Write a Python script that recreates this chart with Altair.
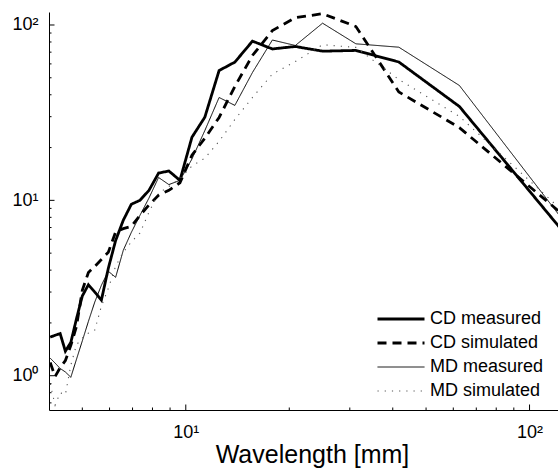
import altair as alt
import pandas as pd

# Wavelengths [mm] (x positions of the sampled points)
wavelength = [125.0, 62.5, 41.67, 31.25, 25.0, 20.83, 17.86, 15.63, 13.89, 12.5,
              11.36, 10.42, 9.615, 8.929, 8.333, 7.813, 7.353, 6.944, 6.579, 6.25,
              5.952, 5.682, 5.435, 5.208, 5.0, 4.808, 4.630, 4.464, 4.310, 4.167, 4.032]

cd_measured = [6.66, 34.3, 61.5, 71.6, 70.9, 75.4, 73.0, 80.9, 61.4, 55.0,
               29.8, 22.9, 13.0, 14.7, 14.3, 11.4, 10.0, 9.5, 7.7, 5.9,
               4.1, 2.7, 3.0, 3.3, 2.85, 2.11, 1.55, 1.38, 1.74, 1.70, 1.66]

cd_simulated = [8.3, 26.0, 41.5, 98.0, 116.0, 110.0, 93.0, 67.0, 44.6, 29.7,
                22.6, 18.1, 12.6, 11.4, 10.7, 9.4, 8.2, 7.1, 6.9, 6.6,
                5.06, 4.6, 4.2, 3.88, 3.07, 1.91, 1.49, 1.22, 1.11, 0.99, 1.19]

md_measured = [7.73, 45.2, 74.7, 78.1, 102.4, 76.4, 82.1, 53.6, 34.8, 38.6,
               25.0, 17.2, 13.0, 12.3, 13.5, 10.3, 8.2, 6.57, 5.19, 3.64,
               3.94, 3.28, 2.63, 2.04, 1.58, 1.24, 0.98, 1.05, 1.10, 1.18, 1.26]

md_simulated = [8.68, 30.1, 48.9, 74.5, 77.2, 61.9, 52.5, 38.6, 28.9, 21.7,
                17.4, 15.7, 13.3, 12.0, 11.0, 8.55, 6.5, 5.8, 5.05, 4.21,
                3.15, 2.49, 1.82, 1.75, 1.64, 1.5, 1.15, 0.78, 0.8, 0.68, 0.9]

series_names = ["CD measured", "CD simulated", "MD measured", "MD simulated"]

x_major = [10, 100]
x_minor = [5, 6, 7, 8, 9, 20, 30, 40, 50, 60, 70, 80, 90]
y_major = [1, 10, 100]
y_minor = [0.7, 0.8, 0.9, 2, 3, 4, 5, 6, 7, 8, 9, 20, 30, 40, 50, 60, 70, 80, 90]

rows = []
for name, vals in zip(series_names, [cd_measured, cd_simulated, md_measured, md_simulated]):
    for w, v in zip(wavelength, vals):
        rows.append({"series": name, "wavelength": w, "value": v})
df = pd.DataFrame(rows)

FONT = "Liberation Sans"
PLOT_W, PLOT_H = 509, 398

xscale = alt.Scale(type="log", domain=[4, 121], nice=False)
yscale = alt.Scale(type="log", domain=[0.6375, 118.6], nice=False)

lines = alt.Chart(df).mark_line(clip=True, strokeJoin="miter", strokeCap="butt").encode(
    x=alt.X("wavelength:Q", scale=xscale,
            axis=alt.Axis(values=x_major, ticks=False, tickSize=0, grid=False,
                          labelExpr="datum.value == 10 ? '10¹' : '10²'",
                          labelPadding=13, labelFontSize=18,
                          title="Wavelength [mm]", titleFontSize=25, titleFontWeight="normal",
                          titleX=263, titleY=52, titleBaseline="alphabetic", titleAlign="center")),
    y=alt.Y("value:Q", scale=yscale,
            axis=alt.Axis(values=y_major, ticks=False, tickSize=0, grid=False,
                          labelExpr="datum.value == 1 ? '10⁰' : datum.value == 10 ? '10¹' : '10²'",
                          labelPadding=11, labelFontSize=18, title=None)),
    color=alt.Color("series:N", scale=alt.Scale(type="ordinal", domain=series_names,
                                                range=["#000000", "#000000", "#000000", "#555555"]),
                    legend=alt.Legend(title=None)),
    strokeWidth=alt.StrokeWidth("series:N",
                                scale=alt.Scale(type="ordinal", domain=series_names,
                                                range=[2.8, 2.8, 1.0, 1.1]),
                                legend=alt.Legend(title=None)),
    strokeDash=alt.StrokeDash("series:N",
                              scale=alt.Scale(type="ordinal", domain=series_names,
                                              range=[[1, 0], [9, 6], [1, 0], [1.2, 6]]),
                              legend=alt.Legend(title=None)),
)

def xticks(vals, length):
    d = pd.DataFrame({"wavelength": vals})
    return alt.Chart(d).mark_rule(color="black", strokeWidth=1).encode(
        x=alt.X("wavelength:Q", scale=xscale),
        y=alt.value(PLOT_H), y2=alt.value(PLOT_H - length))

def yticks(vals, length):
    d = pd.DataFrame({"value": vals})
    return alt.Chart(d).mark_rule(color="black", strokeWidth=1).encode(
        y=alt.Y("value:Q", scale=yscale),
        x=alt.value(0), x2=alt.value(length))

chart = alt.layer(
    lines,
    xticks(x_major, 5.5), xticks(x_minor, 2.5),
    yticks(y_major, 5.5), yticks(y_minor, 2.5),
).properties(
    width=PLOT_W, height=PLOT_H,
    autosize=alt.AutoSizeParams(type="none"),
    padding={"left": 49, "top": 12, "right": 0, "bottom": 64},
    background="white",
).configure_view(stroke=None).configure_axis(
    domainColor="black", domainWidth=1, labelColor="black", titleColor="black",
    labelFont=FONT, titleFont=FONT,
).configure_legend(
    orient="none", legendX=343, legendY=298, padding=0,
    symbolType="M-4.7,0H4.7", symbolSize=100,
    labelFont=FONT, labelFontSize=18, labelColor="black",
    labelOffset=20, rowPadding=6,
)

chart.save("out.html", embed_options={"renderer": "svg", "actions": False})
